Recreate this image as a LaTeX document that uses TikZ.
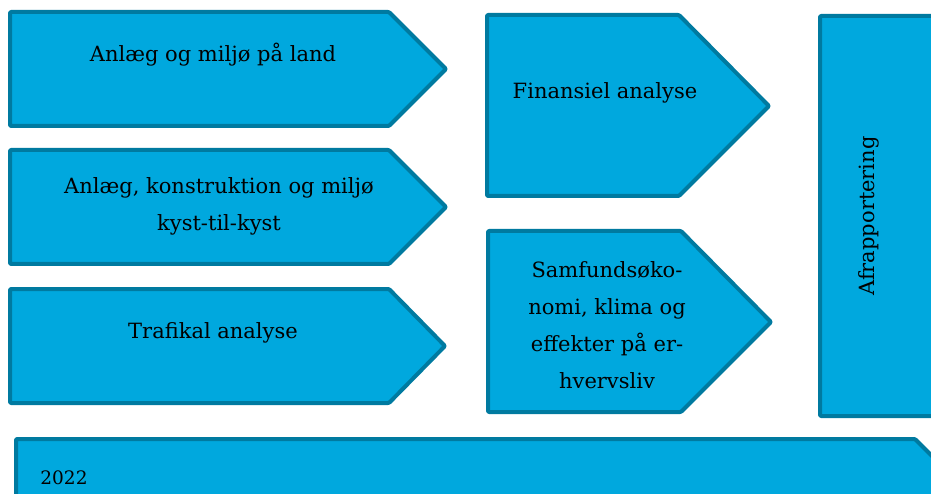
\documentclass[tikz,border=0pt]{standalone}
\usepackage{fontspec}
\setmainfont{DejaVu Serif}
\definecolor{boxfill}{RGB}{0,168,222}
\definecolor{boxline}{RGB}{0,122,160}
\begin{document}
\begin{tikzpicture}[x=1pt,y=-1pt,
  shapebox/.style={fill=boxfill,draw=boxline,line width=4pt,line join=round,rounded corners=1pt},
  lbl/.style={align=center,font=\fontsize{21}{37}\selectfont,inner sep=0pt}]
\useasboundingbox (0,0) rectangle (931,494);
\clip (0,0) rectangle (931,494);
% left column
\draw[shapebox] (10,12) -- (389,12) -- (446,69) -- (389,126) -- (10,126) -- cycle;
\draw[shapebox] (10,150) -- (389,150) -- (446,207) -- (389,264) -- (10,264) -- cycle;
\draw[shapebox] (10,289) -- (389,289) -- (445,346) -- (389,403) -- (10,403) -- cycle;
% middle column
\draw[shapebox] (487,15) -- (679,15) -- (769,106) -- (679,196) -- (487,196) -- cycle;
\draw[shapebox] (488,231) -- (681,231) -- (771,322) -- (681,412) -- (488,412) -- cycle;
% right column
\draw[shapebox] (820,16) rectangle (960,416);
% bottom arrow
\draw[shapebox] (16,439) -- (915,439) -- (1000,524) -- (16,524) -- cycle;
% texts
\node[lbl] (t1) at (213,55) {Anlæg og miljø på land};
\node[lbl] (t2) at (219,206) {Anlæg, konstruktion og miljø\\kyst-til-kyst};
\node[lbl] (t3) at (213,333) {Trafikal analyse};
\node[lbl] (t4) at (605,93) {Finansiel analyse};
\node[lbl] (t5) at (607,325) {Samfundsøko-\\nomi, klima og\\effekter på er-\\hvervsliv};
\node[lbl,rotate=90] (t6) at (869,216) {Afrapportering};
\node[lbl,font=\fontsize{18.5}{22}\selectfont] (t7) at (64,478) {2022};
\end{tikzpicture}
\end{document}
